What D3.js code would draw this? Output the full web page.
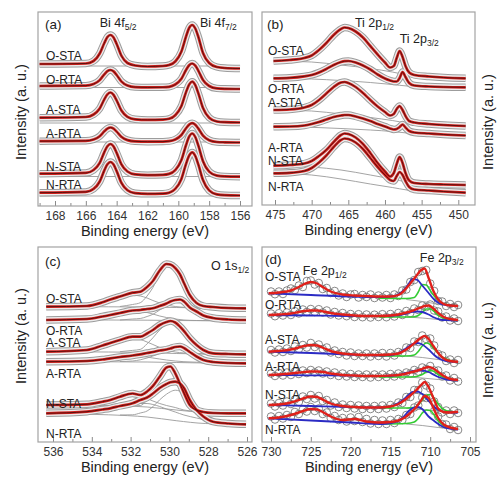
<!DOCTYPE html>
<html>
<head>
<meta charset="utf-8">
<script src="https://cdn.jsdelivr.net/npm/d3@7"></script>
<style>
  body { margin: 0; background: #fff; }
  svg { display: block; font-family: "Liberation Sans", Arial, sans-serif; }
</style>
</head>
<body>
<script>
const width = 497;
const height = 478;

const samples = ['O-STA', 'O-RTA', 'A-STA', 'A-RTA', 'N-STA', 'N-RTA'];

// (a) Bi 4f, fitted envelopes (a.u., offset per sample)
const energyA = [169, 166, 165.5, 165.1, 164.8, 164.6, 164.4, 164.2, 164.0, 163.7, 163.3, 162.8, 162.0, 161.0,
  160.6, 160.2, 159.8, 159.5, 159.3, 159.1, 158.9, 158.7, 158.4, 158.0, 157.5, 157.0, 156.0];
const bi4f = [
  [142, 142.5, 145, 152.5, 163, 169, 171, 168.5, 162, 150.5, 143, 140.5, 139.5, 140, 141, 144.5, 154.5, 169.5, 178, 181, 177.5, 169, 153, 143, 139, 138, 137.5],
  [120, 120.4, 122, 125.9, 131.7, 134.9, 136, 134.6, 131, 124.7, 120.5, 118.9, 118.6, 118.75, 119.2, 121.5, 127.3, 136, 140.7, 142.5, 140.4, 135.2, 126.1, 120, 117.6, 117.2, 117],
  [88.3, 89, 91.5, 97.5, 106.7, 111.6, 113.5, 111.1, 105.5, 95.7, 89.2, 86.7, 86.1, 86.4, 87.2, 90.8, 100, 113.9, 121.4, 124.4, 120.9, 112.6, 98, 88.3, 84.5, 83.8, 83.5],
  [64.8, 65.2, 66.5, 69.8, 74.7, 77.4, 78.5, 77.3, 74.4, 69.3, 65.9, 64.6, 64.3, 64.4, 64.8, 66.5, 71, 77.7, 81.4, 82.9, 81.3, 77.4, 70.4, 65.8, 64, 63.7, 63.5],
  [32.3, 33.1, 36, 43.1, 53.9, 59.8, 62, 59.5, 53.1, 41.9, 34.5, 31.6, 30.9, 31.2, 32.1, 35.9, 46, 61, 69.3, 72.5, 69, 60.3, 44.8, 34.4, 30.4, 29.6, 29.3],
  [13.3, 14.1, 17.1, 24.5, 35.6, 41.7, 44, 41.4, 34.9, 23.4, 15.8, 12.8, 12.2, 12.4, 13.3, 17.1, 27.1, 42.1, 50.3, 53.6, 50, 41.3, 25.9, 15.6, 11.6, 10.8, 10.5]
];
const baseEnergyA = [169, 156];
const bi4fBase = [[140, 140], [118.5, 118.5], [83, 83], [64, 64], [29.5, 29.5], [10, 10]];
const labelA = [146, 122, 92, 68, 35, 17];

// (b) Ti 2p
const energyB = [475.2, 473, 471, 470, 469, 468, 467, 466, 465.5, 465, 464, 463, 462, 461, 460, 459.3, 458.8,
  458.4, 458.0, 457.6, 457.2, 456.7, 456, 454, 452, 449];
const ti2p = [
  [144, 145, 147, 149.5, 155, 162, 170, 176, 177.5, 177, 173.5, 167.5, 159, 150.5, 142.5, 137.5, 139, 147, 154, 148, 139, 132.5, 130, 128.5, 127.5, 126.7],
  [126.7, 127.2, 128.7, 130, 132.5, 136, 140, 143, 143.8, 144, 142.5, 139.5, 135.5, 130.5, 126.5, 124.5, 123.5, 123.5, 127, 133, 128, 122, 119.5, 118.5, 118, 117.7],
  [95, 95.5, 97.5, 100, 105, 111.5, 118, 122.5, 123, 122, 118, 112, 105, 98.5, 93, 89.5, 91, 96, 99, 95, 89, 84, 82.5, 81, 80, 79],
  [78.3, 78.5, 79.5, 81, 83, 85.5, 88, 89.5, 90, 90, 88.5, 86.5, 84, 81, 78.5, 76.5, 75.5, 76, 78, 80.5, 77.5, 74, 72.5, 71.5, 70.5, 69.5],
  [39.3, 40, 41.5, 44, 49, 55, 63, 70, 71.5, 71, 67.5, 61, 52, 42, 33.5, 28.5, 32, 41, 48, 42, 32, 24.5, 22, 21, 20.5, 20],
  [31.7, 32.2, 34, 37, 42.5, 49.5, 58, 65, 66.5, 66, 62.5, 56, 47, 38, 30, 25, 24, 29, 33, 30, 24, 18, 15.5, 14.5, 13.5, 12.3]
];
const bgEnergyB = [475.2, 470, 466, 462, 459, 457, 455, 449];
const ti2pBg = [
  [144, 143, 140, 136.5, 133, 130, 128.5, 126.7],
  [126.7, 126, 124.5, 122.5, 120.5, 119, 118.3, 117.7],
  [95, 94, 91, 87.5, 84.5, 82, 80.5, 79],
  [78.3, 77.7, 76.5, 75, 73.5, 72, 71, 69.5],
  [39.3, 38, 35, 30, 26, 23, 21.5, 20],
  [31.7, 30, 26, 21, 17.5, 15, 13.5, 12.3]
];
const labelB = [150, 112.5, 98.5, 53.5, 40, 13.7];

// (c) O 1s
const energyC = [536.35, 534.25, 533.45, 533.05, 532.55, 531.9, 531.5, 531.15, 530.85, 530.5, 530.15, 529.95,
  529.7, 529.45, 529.25, 528.95, 528.6, 528.25, 527.75, 526.95, 526.05];
const o1s = [
  [135.3, 136, 139.7, 142.5, 145.5, 149.3, 150.3, 155, 161, 171.5, 178, 177.5, 174, 167.5, 159, 147, 139, 136, 135, 134, 133.7],
  [122, 123, 125.5, 127, 129, 131.5, 132, 133, 133.7, 136, 138.5, 140.5, 142, 142.5, 140.5, 134.5, 130.5, 126.5, 124, 122.5, 122],
  [90.3, 92, 96.5, 99, 102, 105.3, 105.3, 108.5, 112, 117, 120, 121, 119.5, 115.3, 111, 103.7, 97, 92, 88.7, 88, 87.7],
  [80.3, 81, 82.5, 83.7, 85, 86.5, 87.7, 89, 90, 91.5, 92.5, 93.5, 95, 95.5, 94, 90, 85.5, 82, 80, 79, 78.7],
  [37, 37.7, 40.3, 42, 45.3, 48.5, 47, 50.5, 56, 65.3, 74.5, 75.5, 68.7, 58, 49, 37, 32, 30, 29, 28.7, 28.7],
  [28.7, 30.3, 32.5, 33.7, 36, 38.7, 42, 44.5, 48.5, 54, 58, 59.7, 60.3, 58.5, 54, 42, 32, 25.5, 20.3, 18.5, 17.7]
];
const shoulderEnergyC = [534.25, 533.45, 533.05, 532.55, 531.9, 531.5, 531.15, 530.85, 530.5, 530.15, 529.7, 529.25, 528.6, 527.75];
const o1sShoulder = [
  [136, 139.5, 142, 145, 146.8, 146, 144, 141.5, 139, 137, 135.5, 134.7, 134.2, 134],
  [123, 125.5, 127, 129, 130.5, 130.5, 129.5, 128, 126, 124.5, 123, 122, 121.5, 121.3],
  [92, 96, 98.5, 101.5, 103.5, 102.5, 100, 97.5, 94.5, 92, 90, 89, 88.3, 88],
  [81, 82.5, 83.5, 84.5, 85.5, 85.5, 85, 84, 83, 82, 81, 80.3, 79.8, 79.5],
  [37.7, 40, 41.5, 44.5, 47.5, 46, 43.5, 41, 38.5, 36.5, 34.5, 32, 30.5, 29.3],
  [30.3, 32.5, 33.7, 35.5, 37.5, 38.5, 38.5, 37.5, 35.5, 33, 30, 27, 24, 20.5]
];
const mainEnergyC = [532.55, 531.9, 531.5, 531.15, 530.85, 530.5, 530.15, 529.95, 529.7, 529.45, 529.25, 528.95, 528.6, 528.25, 527.75, 526.95, 526.05];
const o1sMain = [
  [135.5, 137.5, 139.3, 146, 154.5, 167.5, 176, 176.2, 173.5, 167, 159, 147, 139, 136, 135, 134, 133.7],
  [122, 123, 123.5, 125.5, 127.7, 132, 136, 138.8, 141, 142, 140.5, 134.5, 130.5, 126.5, 124, 122.5, 122],
  [90.3, 91.6, 92.6, 98.2, 104.2, 112, 117.5, 119.3, 118.5, 114.7, 110.5, 103.7, 97, 92, 88.7, 88, 87.7],
  [80.5, 81, 82.2, 84, 86, 88.5, 90.5, 92, 94, 94.9, 93.7, 90, 85.5, 82, 80, 79, 78.7],
  [36.6, 37, 36.5, 42, 49.5, 60.8, 71, 73, 66.2, 56.5, 48, 37, 32, 30, 29, 28.7, 28.7],
  [27, 27.2, 29, 31, 35.3, 42.2, 47.8, 50.2, 51.8, 50.8, 47.3, 36.1, 27, 22, 17.9, 18, 17.7]
];
const bgEnergyC = [536.35, 533.15, 531.15, 529.65, 528.15, 526.05];
const o1sBg = [
  [135.3, 135.2, 135, 134.5, 134, 133.7],
  [122, 122, 121.8, 121.5, 121.3, 121],
  [90.3, 90, 89.5, 88.5, 88, 87.7],
  [80.3, 80.2, 80, 79.5, 79, 78.5],
  [37, 36.5, 35, 32, 29.5, 28.7],
  [28.5, 27.2, 25, 21.3, 18.5, 17.7]
];
const labelC = [139, 107.5, 95, 64, 34, 4];

// (d) Fe 2p
const energyD = [730.3, 729, 727.5, 726.5, 725.8, 725, 724.2, 723.4, 722.5, 721, 719.5, 718, 716.5, 715, 714,
  713.2, 712.5, 711.8, 711.2, 710.7, 710.2, 709.6, 709, 708.3, 707.5, 706.5];
const fe2pFit = [
  [148.7, 149.5, 151.5, 155, 158, 160, 158.5, 154.5, 150.5, 147.5, 146.5, 146, 145.5, 145.5, 147, 152, 158.5, 165.5, 171.5, 173.5, 164, 151, 142.5, 138, 136.5, 136],
  [127, 127.5, 128.5, 130, 131, 131.5, 131.5, 130.5, 129, 127.5, 126.5, 126, 126, 126.5, 127.5, 129, 130.5, 132.5, 134.5, 136, 136.5, 133.5, 129, 125, 123, 122],
  [90.3, 91, 92.5, 94.5, 96, 97, 96.5, 94, 91, 88.5, 87.5, 87, 87, 87.5, 88.5, 91.5, 95.5, 100, 104, 106, 103, 96, 89, 83.5, 81, 80.3],
  [67, 67.5, 68.5, 69.5, 70, 70.5, 70.5, 70, 68.5, 67, 66.5, 66, 66, 66.5, 67, 68, 69.5, 71, 72.5, 74, 75, 73.5, 70, 66, 63, 62],
  [37, 37.5, 39.5, 42, 44, 45.5, 45, 42, 38.5, 36, 35, 34.5, 34.5, 35.5, 38, 42, 46.5, 51.5, 56.5, 60, 55, 44, 33.5, 30, 29.5, 30.3],
  [23.7, 24.5, 27, 29.5, 31.5, 33, 32.5, 29.5, 25.5, 22, 23, 20.5, 19.5, 20, 21.5, 24.5, 29, 34.5, 41, 46, 44, 34, 24, 17.5, 14.5, 13]
];
const pointEnergyD = [730, 729.5, 729, 728.5, 728, 727.5, 727, 726.5, 726, 725.5, 725, 724.5, 724, 723.5, 723, 722.5,
  722, 721.5, 721, 720.5, 720, 719.5, 719, 718.5, 718, 717.5, 717, 716.5, 716, 715.5, 715, 714.5, 714, 713.5, 713,
  712.5, 712, 711.5, 711, 710.5, 710, 709.5, 709, 708.5, 708, 707.5, 707, 706.5];
const fe2pPoints = [
  [150.5, 147.8, 150.5, 148, 151.5, 153.5, 152, 156.5, 155, 161, 161.5, 157.5, 159, 153, 154, 149, 151, 146.5, 148.5, 145, 147.5, 148, 144.5, 147, 145, 147.5, 144, 146.5, 144.5, 147, 144, 147.5, 146, 151.5, 152.5, 160, 162, 170, 171, 172, 158.5, 151, 141, 140.5, 136, 138, 135, 137],
  [128.5, 125.8, 128.8, 126.5, 129.5, 127, 130.8, 128.5, 132.5, 130, 133, 130, 132.8, 129.5, 131.5, 127.5, 130, 126.5, 129, 125.8, 128, 125, 127.8, 124.8, 127.5, 124.5, 127.3, 125, 127.8, 124.8, 128, 125.5, 129, 127, 131, 129, 133.5, 132, 136.5, 135, 137.5, 131.5, 130.5, 124.5, 125.5, 121.5, 123.5, 121],
  [92, 89.5, 92.5, 90, 93.5, 91, 95.5, 93, 97, 94.5, 99, 95, 97.5, 93, 94.5, 89.5, 91.5, 88, 90, 86.5, 89.5, 86, 88.5, 86, 88.5, 85.5, 88.5, 86, 89, 85.5, 89, 86.5, 90, 89, 94.5, 94, 100.5, 100, 106.5, 103, 103.5, 96.5, 88, 86.5, 81, 82.5, 79, 82],
  [68.5, 66, 69, 66.5, 69.5, 67, 70.5, 68, 71.5, 69, 72, 69.5, 71.5, 68.5, 70.5, 67, 69.5, 66, 68.5, 65.5, 68, 65, 67.5, 65, 67.5, 64.5, 67.5, 65, 67.5, 65, 68, 65.5, 68.5, 66.5, 69.5, 68.5, 72, 70.5, 74.5, 73, 76, 71.5, 71.5, 65.5, 66.5, 61.5, 64, 60.5],
  [38.5, 35.5, 39, 36.5, 40.5, 38, 42.5, 40, 45.5, 43, 47, 43.5, 46, 41, 42, 36.5, 39.5, 35, 37.5, 34, 37, 33.5, 36.5, 33, 36, 33, 36, 33, 36.5, 33.5, 37, 35, 39.5, 39, 45, 45, 52, 52, 59.5, 56.5, 53.5, 40.5, 35, 29.5, 31.5, 28, 31.5, 29],
  [25.5, 22.5, 26, 23.5, 27, 25, 30, 28, 32.5, 30.5, 35, 31, 33.5, 28, 29.5, 24, 26, 22, 24, 20.5, 24.5, 21, 25, 20, 23, 18.5, 22, 18, 21.5, 18, 22, 19, 23, 22, 27, 28, 34.5, 36.5, 44.5, 44, 44, 31, 25.5, 18, 17.5, 13, 15, 12]
];
const comp1EnergyD = [730.3, 725, 720, 716, 714.5, 713.5, 712.8, 712.2, 711.6, 711, 710.2, 709.5, 708.8, 708, 706.5];
const fe2pComp1 = [
  [148.7, 147, 145.5, 145, 146, 150.5, 157, 163, 162, 156.5, 149, 142.5, 138.5, 137, 136],
  [127, 126.5, 126, 126, 126.5, 127.5, 129, 130.2, 130.5, 130, 127.5, 124.5, 122.5, 121.8, 121.5],
  [90.3, 89, 87.5, 86.5, 87.5, 91, 95, 98, 99, 97.5, 92.5, 87, 83, 81, 80],
  [67, 66.7, 66.3, 66, 66.5, 68, 69.5, 70.8, 71.5, 71.5, 70, 67, 64.5, 62.5, 61.5],
  [37, 36, 35, 34.5, 37, 41.5, 46.5, 50, 50.5, 48, 41, 35, 31.5, 30, 29.5],
  [23.7, 21.5, 19.5, 18, 19.5, 24, 30, 34, 35, 33, 25.5, 21, 17, 14, 12.5]
];
const comp2EnergyD = [716.5, 713, 712, 711.5, 711, 710.5, 710, 709.5, 709, 708.3, 707.5, 706.5];
const fe2pComp2 = [
  [143.7, 143.5, 144.5, 150, 157.5, 157, 151.5, 146, 141.5, 138, 137, 136.3],
  [125, 125, 125.3, 126.5, 129.5, 133, 133, 130.5, 126.5, 123.5, 122, 121.5],
  [86, 86, 87, 90.5, 96, 99, 97.5, 93, 88.5, 84, 81.5, 80],
  [65, 65, 65.3, 66, 67.5, 70, 71.5, 70.5, 67.5, 64.5, 62.5, 61.5],
  [34, 34, 34.5, 37, 42, 46.5, 47.5, 43.5, 38, 32.5, 30.5, 30],
  [18, 18.5, 20, 23.5, 29, 32, 31.5, 27, 21, 16.5, 14, 13]
];
const bgEnergyD = [713, 711, 709, 707, 706.3];
const fe2pBg = [
  [142.5, 140.5, 138, 136.5, 136],
  [125, 124, 122.5, 121.5, 121.3],
  [86, 84.5, 82.5, 80.5, 80],
  [65, 64, 62.5, 61.5, 61.3],
  [33.5, 32.5, 31, 30, 29.8],
  [18, 16.5, 14.5, 13, 12.7]
];
const labelD = [161, 132.7, 97.7, 71, 43, 7.7];

const ticksA = [168, 166, 164, 162, 160, 158, 156];
const minorA = [169, 167, 165, 163, 161, 159, 157];
const ticksB = [475, 470, 465, 460, 455, 450];
const minorB = [472.5, 467.5, 462.5, 457.5, 452.5];
const ticksC = [536, 534, 532, 530, 528, 526];
const minorC = [535, 533, 531, 529, 527];
const ticksD = [730, 725, 720, 715, 710, 705];
const minorD = [727.5, 722.5, 717.5, 712.5, 707.5];

const RED = '#d2201c';
const GRAY = '#9a9a9a';

const svg = d3.select('body')
  .append('svg')
  .attr('width', width)
  .attr('height', height);

function panel(id, box, xDomain, xRange, ticks, minor, letter) {
  const x = d3.scaleLinear().domain(xDomain).range(xRange);
  const y = d3.scaleLinear().domain([0, box.bottom - box.top]).range([box.bottom, box.top]);
  const g = svg.append('g');
  g.append('clipPath').attr('id', 'clip-' + id)
    .append('rect')
      .attr('x', box.left).attr('y', box.top)
      .attr('width', box.right - box.left).attr('height', box.bottom - box.top);
  const plot = g.append('g').attr('clip-path', `url(#clip-${id})`);

  const axis = g.append('g').attr('transform', `translate(0,${box.bottom})`);
  axis.call(d3.axisBottom(x).tickValues(ticks).tickSize(-5).tickPadding(5).tickFormat(d3.format('d')));
  axis.append('g').call(d3.axisBottom(x).tickValues(minor).tickSize(-3).tickFormat(''));
  axis.selectAll('.domain').remove();
  axis.selectAll('line').attr('stroke', '#8a8a8a');
  axis.selectAll('text').attr('font-size', 12).attr('fill', '#333')
    .attr('font-family', '"Liberation Sans", Arial, sans-serif');

  g.append('rect')
    .attr('x', box.left).attr('y', box.top)
    .attr('width', box.right - box.left).attr('height', box.bottom - box.top)
    .attr('fill', 'none').attr('stroke', '#a3a3a3').attr('stroke-width', 1.2);

  g.append('text')
    .attr('x', (box.left + box.right) / 2).attr('y', box.bottom + 30)
    .attr('text-anchor', 'middle').attr('font-size', 14.5).attr('fill', '#222')
    .text('Binding energy (eV)');

  g.append('text')
    .attr('x', box.left + letter.dx).attr('y', box.top + letter.dy)
    .attr('font-size', 13.5).attr('fill', '#222')
    .text(letter.text);

  return { x, y, g, plot, box };
}

function lineOf(p, energy) {
  return d3.line()
    .x((d, i) => p.x(energy[i]))
    .y(d => p.y(d))
    .curve(d3.curveMonotoneX);
}

function thin(p, energy, series, color, w) {
  p.plot.selectAll(null)
    .data(series)
    .join('path')
      .attr('d', lineOf(p, energy))
      .attr('fill', 'none')
      .attr('stroke', color)
      .attr('stroke-width', w);
}

// data band (open circles) + red fit with dark core
function envelope(p, energy, series) {
  const layers = [
    { c: '#9c9c9c', w: 7.4 },
    { c: '#ececec', w: 5.4 },
    { c: RED, w: 2.7 },
    { c: '#3b0b0b', w: 0.8 }
  ];
  layers.forEach(l => thin(p, energy, series, l.c, l.w));
}

function sampleLabels(p, levels, dx) {
  p.g.selectAll(null)
    .data(samples)
    .join('text')
      .attr('x', p.box.left + dx)
      .attr('y', (d, i) => p.y(levels[i]))
      .attr('font-size', 12)
      .attr('fill', '#222')
      .text(d => d);
}

function peakLabel(p, e, yPix, main, sub) {
  const t = p.g.append('text')
    .attr('x', p.x(e)).attr('y', yPix)
    .attr('font-size', 12.5).attr('fill', '#222');
  t.append('tspan').text(main);
  t.append('tspan').attr('font-size', 8.5).attr('dy', 3).text(sub);
}

// ---- (a)
const pA = panel('a', { left: 38, top: 12, right: 252, bottom: 206 }, [168, 156], [55, 240], ticksA, minorA,
  { text: '(a)', dx: 7, dy: 17 });
thin(pA, baseEnergyA, bi4fBase, GRAY, 0.9);
envelope(pA, energyA, bi4f);
sampleLabels(pA, labelA, 8);
peakLabel(pA, 165.1, 27, 'Bi 4f', '5/2');
peakLabel(pA, 158.6, 27, 'Bi 4f', '7/2');

// ---- (b)
const pB = panel('b', { left: 262, top: 12, right: 475, bottom: 205 }, [475, 450], [275, 458.3], ticksB, minorB,
  { text: '(b)', dx: 5, dy: 17 });
thin(pB, bgEnergyB, ti2pBg, GRAY, 0.9);
envelope(pB, energyB, ti2p);
sampleLabels(pB, labelB, 6);
peakLabel(pB, 464.1, 27, 'Ti 2p', '1/2');
peakLabel(pB, 458.0, 43, 'Ti 2p', '3/2');

// ---- (c)
const pC = panel('c', { left: 38, top: 247, right: 252, bottom: 442 }, [536, 526], [53, 247], ticksC, minorC,
  { text: '(c)', dx: 7, dy: 19 });
thin(pC, bgEnergyC, o1sBg, GRAY, 0.9);
thin(pC, shoulderEnergyC, o1sShoulder, GRAY, 0.9);
thin(pC, mainEnergyC, o1sMain, GRAY, 0.9);
envelope(pC, energyC, o1s);
sampleLabels(pC, labelC, 8);
peakLabel(pC, 527.85, 270, 'O 1s', '1/2');

// ---- (d)
const pD = panel('d', { left: 262, top: 247, right: 476, bottom: 442 }, [730, 705], [271, 470], ticksD, minorD,
  { text: '(d)', dx: 3, dy: 17 });
fe2pPoints.forEach(series => {
  pD.plot.selectAll(null)
    .data(series)
    .join('circle')
      .attr('cx', (d, i) => pD.x(pointEnergyD[i]))
      .attr('cy', d => pD.y(d))
      .attr('r', 3.8)
      .attr('fill', 'none')
      .attr('stroke', '#6a6a6a')
      .attr('stroke-width', 0.8);
});
thin(pD, bgEnergyD, fe2pBg, GRAY, 0.9);
thin(pD, comp2EnergyD, fe2pComp2, '#33cc33', 1.6);
thin(pD, comp1EnergyD, fe2pComp1, '#2b2bc4', 1.8);
thin(pD, energyD, fe2pFit, '#e0201a', 2.4);
sampleLabels(pD, labelD, 3);
peakLabel(pD, 726, 275, 'Fe 2p', '1/2');
peakLabel(pD, 711.3, 262, 'Fe 2p', '3/2');

// y titles (right ones belong to the neighbouring, cropped figure)
const yTitles = [
  { x: 26, y: 112 }, { x: 26, y: 336 }, { x: 493, y: 122 }, { x: 493, y: 350 }
];
svg.selectAll('.ytitle')
  .data(yTitles)
  .join('text')
    .attr('class', 'ytitle')
    .attr('transform', d => `translate(${d.x},${d.y}) rotate(-90)`)
    .attr('text-anchor', 'middle')
    .attr('font-size', 14.5)
    .attr('fill', '#222')
    .text('Intensity (a. u.)');
</script>
</body>
</html>
